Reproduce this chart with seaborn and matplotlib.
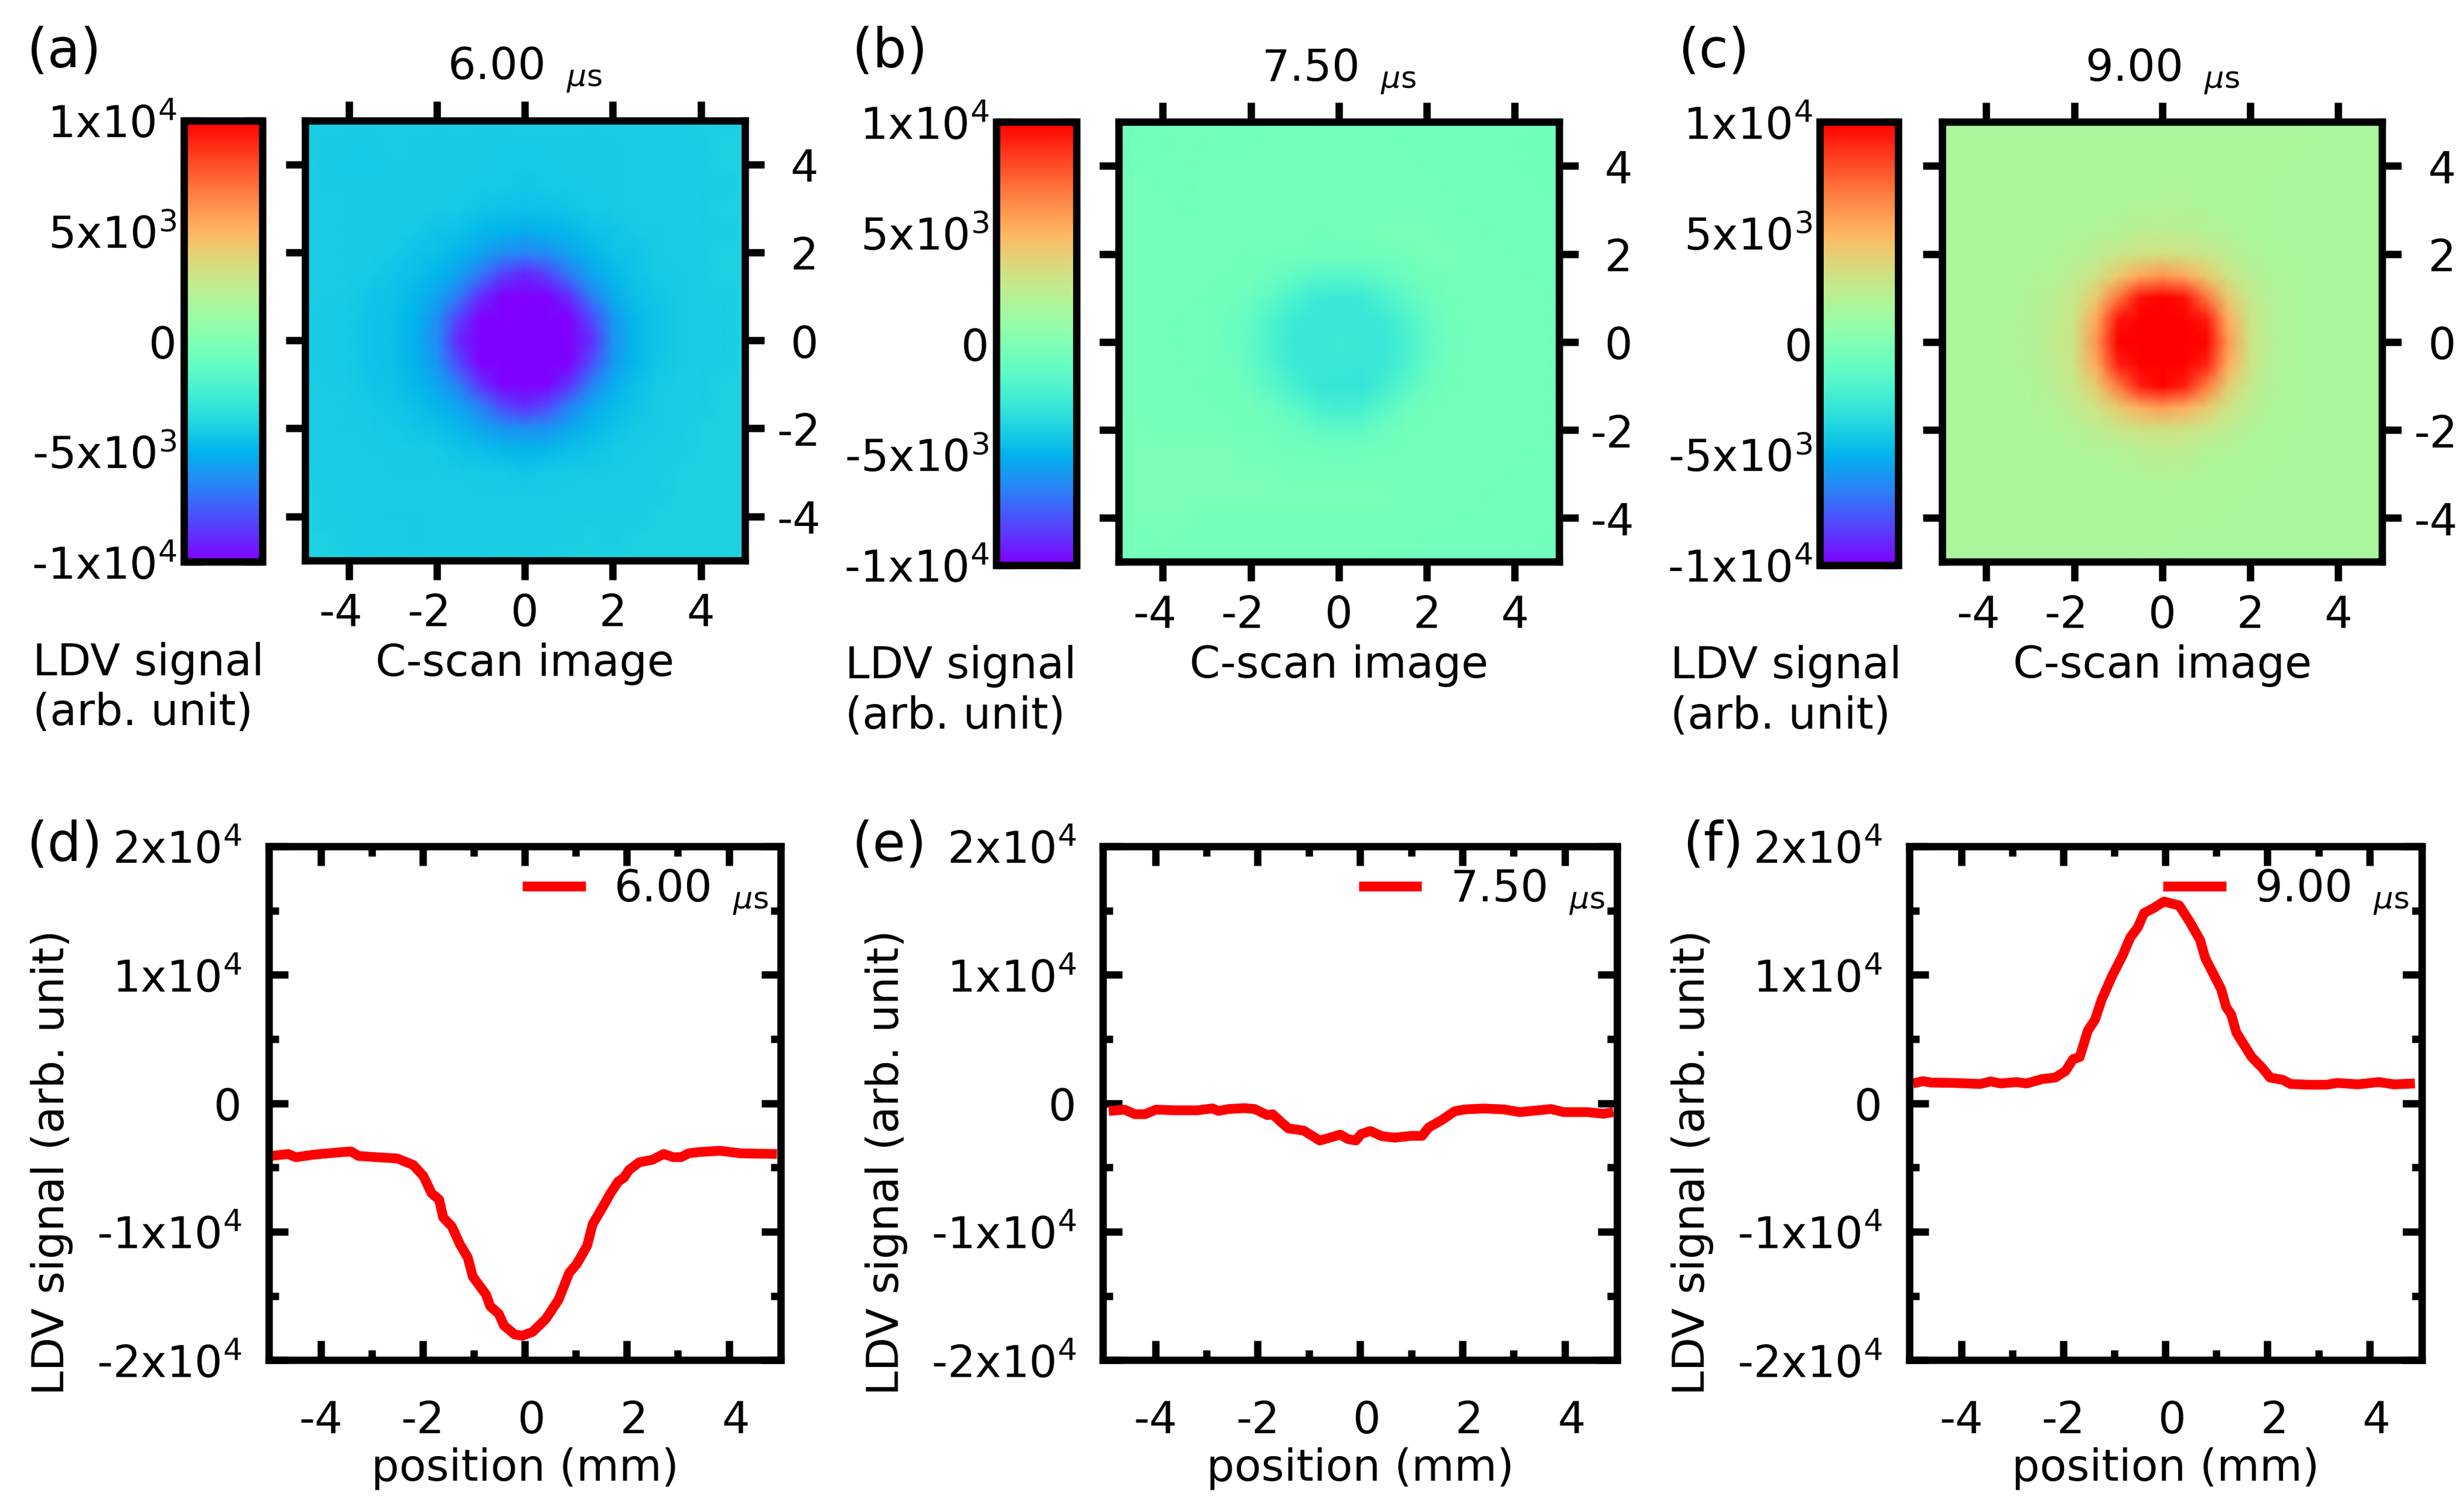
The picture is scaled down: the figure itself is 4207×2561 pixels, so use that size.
import matplotlib
matplotlib.use("Agg")
import matplotlib.pyplot as plt
import matplotlib.transforms as mtrans
import numpy as np
import seaborn as sns

# LDV signal, in units of 1e3, nodes every 0.5 mm
# rows run from y = +5 to y = -5, columns from x = -5 to x = +5
cscan_a = [
    [-4.0,-4.0,-4.1,-4.1,-4.1,-4.0,-4.1,-4.0,-4.1,-4.1,-4.0,-4.0,-4.0,-4.1,-4.0,-4.0,-4.0,-4.0,-3.9,-4.0,-3.9],
    [-4.0,-4.1,-4.1,-4.1,-4.0,-4.1,-4.1,-4.1,-4.1,-4.1,-4.1,-4.1,-4.1,-4.1,-4.1,-4.0,-4.0,-4.0,-4.0,-3.9,-3.9],
    [-4.0,-4.1,-4.2,-4.2,-4.1,-4.1,-4.1,-4.1,-4.1,-4.2,-4.2,-4.2,-4.1,-4.1,-4.1,-4.0,-4.0,-4.0,-4.0,-3.9,-3.9],
    [-4.0,-4.1,-4.1,-4.1,-4.1,-4.1,-4.1,-4.1,-4.2,-4.2,-4.3,-4.2,-4.2,-4.1,-4.1,-4.0,-4.0,-4.0,-4.0,-4.0,-3.9],
    [-4.0,-4.0,-4.1,-4.1,-4.1,-4.1,-4.1,-4.2,-4.3,-4.5,-4.5,-4.5,-4.3,-4.2,-4.1,-4.1,-4.0,-4.0,-4.0,-3.9,-3.9],
    [-4.0,-4.0,-4.1,-4.1,-4.1,-4.2,-4.4,-4.5,-4.8,-5.0,-5.2,-5.0,-4.8,-4.5,-4.3,-4.1,-4.1,-4.0,-4.0,-4.0,-3.9],
    [-4.0,-4.0,-4.1,-4.1,-4.2,-4.4,-4.6,-4.9,-5.5,-6.1,-6.4,-6.1,-5.5,-4.9,-4.5,-4.3,-4.1,-4.0,-4.0,-3.9,-3.9],
    [-4.0,-4.0,-4.1,-4.2,-4.4,-4.6,-4.9,-5.6,-6.8,-8.3,-9.0,-8.3,-6.8,-5.5,-4.8,-4.4,-4.2,-4.1,-4.0,-3.9,-3.9],
    [-4.0,-4.1,-4.1,-4.3,-4.5,-4.8,-5.5,-6.8,-8.8,-12.1,-13.0,-12.1,-8.8,-6.7,-5.3,-4.6,-4.3,-4.1,-4.0,-4.0,-3.9],
    [-4.1,-4.1,-4.2,-4.4,-4.6,-5.0,-6.1,-8.3,-12.4,-15.3,-16.6,-15.3,-12.3,-8.2,-5.9,-4.8,-4.4,-4.1,-4.0,-4.0,-3.9],
    [-4.1,-4.1,-4.2,-4.4,-4.6,-5.1,-6.3,-9.0,-13.4,-16.8,-18.0,-16.6,-13.2,-8.9,-6.1,-4.9,-4.4,-4.1,-4.0,-4.0,-3.9],
    [-4.1,-4.1,-4.2,-4.4,-4.6,-5.0,-6.0,-8.2,-12.2,-15.0,-16.2,-15.0,-12.1,-8.1,-5.9,-4.8,-4.3,-4.1,-4.0,-4.0,-3.9],
    [-4.0,-4.1,-4.1,-4.3,-4.5,-4.8,-5.4,-6.7,-8.7,-11.9,-12.7,-11.9,-8.7,-6.6,-5.3,-4.6,-4.2,-4.0,-4.0,-3.9,-3.9],
    [-4.0,-4.0,-4.1,-4.2,-4.3,-4.6,-4.9,-5.5,-6.6,-8.1,-8.8,-8.1,-6.6,-5.4,-4.7,-4.4,-4.1,-4.0,-4.0,-3.9,-3.9],
    [-4.0,-4.0,-4.1,-4.1,-4.2,-4.3,-4.5,-4.8,-5.4,-6.0,-6.2,-6.0,-5.4,-4.8,-4.5,-4.2,-4.1,-4.0,-3.9,-3.9,-3.9],
    [-4.0,-4.0,-4.0,-4.1,-4.1,-4.1,-4.2,-4.4,-4.6,-4.8,-4.9,-4.8,-4.6,-4.4,-4.2,-4.1,-4.0,-4.0,-3.9,-3.9,-3.9],
    [-4.0,-4.0,-4.0,-4.0,-4.1,-4.1,-4.1,-4.1,-4.2,-4.2,-4.3,-4.2,-4.2,-4.1,-4.1,-4.0,-4.0,-3.9,-3.9,-3.9,-3.9],
    [-3.9,-4.0,-4.0,-4.0,-4.0,-4.0,-4.0,-4.0,-4.1,-4.1,-4.1,-4.1,-4.0,-4.0,-4.0,-4.0,-4.0,-3.9,-3.9,-3.9,-3.9],
    [-3.9,-4.0,-4.0,-4.0,-4.1,-4.1,-4.0,-4.0,-4.0,-4.0,-4.0,-4.0,-4.0,-4.0,-4.0,-4.0,-3.9,-3.9,-3.9,-3.9,-3.9],
    [-3.9,-3.9,-4.0,-4.0,-4.0,-4.1,-4.0,-4.0,-4.0,-4.0,-4.0,-4.0,-4.0,-3.9,-4.0,-3.9,-3.9,-3.9,-3.9,-3.9,-3.9],
    [-3.9,-3.9,-3.9,-4.0,-4.0,-4.0,-4.0,-4.0,-4.0,-3.9,-4.0,-3.9,-3.9,-3.9,-3.9,-3.9,-3.9,-3.9,-3.9,-3.9,-3.9],
]
cscan_b = [
    [-0.4,-0.4,-0.5,-0.4,-0.4,-0.5,-0.5,-0.5,-0.4,-0.5,-0.5,-0.5,-0.5,-0.5,-0.5,-0.5,-0.5,-0.5,-0.5,-0.6,-0.6],
    [-0.4,-0.5,-0.5,-0.4,-0.5,-0.5,-0.5,-0.4,-0.4,-0.4,-0.4,-0.4,-0.4,-0.5,-0.5,-0.5,-0.5,-0.5,-0.5,-0.6,-0.6],
    [-0.4,-0.5,-0.5,-0.5,-0.4,-0.4,-0.4,-0.4,-0.4,-0.4,-0.4,-0.4,-0.4,-0.4,-0.5,-0.5,-0.5,-0.5,-0.5,-0.6,-0.6],
    [-0.4,-0.4,-0.5,-0.5,-0.4,-0.4,-0.4,-0.4,-0.4,-0.4,-0.4,-0.4,-0.4,-0.4,-0.4,-0.5,-0.5,-0.5,-0.5,-0.5,-0.6],
    [-0.4,-0.4,-0.4,-0.5,-0.4,-0.4,-0.4,-0.4,-0.4,-0.4,-0.4,-0.4,-0.4,-0.4,-0.4,-0.4,-0.5,-0.5,-0.5,-0.5,-0.5],
    [-0.4,-0.4,-0.4,-0.4,-0.4,-0.4,-0.4,-0.4,-0.4,-0.5,-0.4,-0.4,-0.3,-0.3,-0.3,-0.4,-0.4,-0.5,-0.5,-0.5,-0.5],
    [-0.4,-0.4,-0.4,-0.4,-0.4,-0.4,-0.5,-0.5,-0.6,-0.7,-0.7,-0.7,-0.6,-0.4,-0.3,-0.3,-0.4,-0.4,-0.5,-0.5,-0.5],
    [-0.4,-0.4,-0.4,-0.4,-0.4,-0.5,-0.6,-0.8,-1.1,-1.5,-1.6,-1.5,-1.1,-0.8,-0.5,-0.4,-0.4,-0.4,-0.4,-0.5,-0.5],
    [-0.4,-0.4,-0.4,-0.4,-0.5,-0.6,-0.9,-1.4,-2.1,-2.6,-2.7,-2.6,-2.1,-1.4,-0.8,-0.5,-0.4,-0.4,-0.4,-0.4,-0.5],
    [-0.4,-0.4,-0.4,-0.5,-0.5,-0.8,-1.1,-1.9,-2.6,-2.8,-2.8,-2.8,-2.6,-2.0,-1.1,-0.6,-0.4,-0.4,-0.4,-0.4,-0.5],
    [-0.4,-0.4,-0.4,-0.5,-0.5,-0.8,-1.2,-2.1,-2.8,-2.8,-2.6,-2.7,-2.8,-2.2,-1.2,-0.7,-0.4,-0.4,-0.4,-0.4,-0.5],
    [-0.4,-0.4,-0.4,-0.5,-0.5,-0.7,-1.1,-1.9,-2.6,-2.8,-2.7,-2.8,-2.7,-2.1,-1.1,-0.6,-0.4,-0.4,-0.4,-0.4,-0.5],
    [-0.4,-0.4,-0.4,-0.4,-0.5,-0.6,-0.9,-1.5,-2.2,-2.8,-2.9,-2.9,-2.4,-1.6,-0.8,-0.5,-0.4,-0.4,-0.4,-0.4,-0.5],
    [-0.3,-0.4,-0.4,-0.4,-0.4,-0.5,-0.6,-0.9,-1.4,-2.1,-2.3,-2.2,-1.5,-0.9,-0.5,-0.4,-0.4,-0.4,-0.4,-0.4,-0.5],
    [-0.3,-0.3,-0.4,-0.4,-0.4,-0.4,-0.5,-0.6,-0.8,-1.1,-1.3,-1.2,-0.8,-0.6,-0.4,-0.4,-0.4,-0.4,-0.4,-0.4,-0.5],
    [-0.3,-0.3,-0.3,-0.3,-0.3,-0.3,-0.4,-0.4,-0.5,-0.6,-0.7,-0.6,-0.5,-0.4,-0.4,-0.4,-0.4,-0.4,-0.4,-0.5,-0.5],
    [-0.3,-0.3,-0.3,-0.3,-0.3,-0.3,-0.3,-0.3,-0.4,-0.4,-0.4,-0.4,-0.4,-0.4,-0.4,-0.4,-0.4,-0.4,-0.5,-0.5,-0.5],
    [-0.3,-0.3,-0.3,-0.3,-0.3,-0.3,-0.3,-0.3,-0.3,-0.3,-0.3,-0.3,-0.3,-0.4,-0.4,-0.4,-0.4,-0.5,-0.5,-0.5,-0.5],
    [-0.3,-0.3,-0.3,-0.3,-0.4,-0.4,-0.4,-0.4,-0.4,-0.4,-0.4,-0.4,-0.4,-0.4,-0.4,-0.4,-0.5,-0.5,-0.5,-0.5,-0.5],
    [-0.4,-0.4,-0.3,-0.4,-0.4,-0.4,-0.4,-0.4,-0.4,-0.4,-0.4,-0.4,-0.4,-0.4,-0.5,-0.5,-0.5,-0.5,-0.5,-0.5,-0.6],
    [-0.4,-0.4,-0.4,-0.4,-0.4,-0.4,-0.4,-0.4,-0.4,-0.4,-0.4,-0.4,-0.5,-0.5,-0.5,-0.5,-0.5,-0.5,-0.6,-0.6,-0.6],
]
cscan_c = [
    [1.7,1.7,1.7,1.7,1.7,1.7,1.7,1.7,1.7,1.7,1.7,1.7,1.7,1.7,1.7,1.7,1.7,1.7,1.6,1.6,1.6],
    [1.7,1.7,1.7,1.7,1.7,1.7,1.7,1.7,1.7,1.7,1.7,1.7,1.7,1.7,1.7,1.7,1.7,1.6,1.6,1.6,1.6],
    [1.7,1.7,1.7,1.7,1.7,1.7,1.7,1.7,1.7,1.7,1.7,1.7,1.7,1.7,1.7,1.7,1.6,1.6,1.6,1.6,1.6],
    [1.7,1.7,1.7,1.7,1.7,1.7,1.7,1.7,1.7,1.7,1.8,1.8,1.7,1.7,1.7,1.6,1.6,1.6,1.6,1.6,1.6],
    [1.7,1.7,1.7,1.7,1.7,1.7,1.7,1.7,1.8,1.9,2.0,1.9,1.8,1.7,1.7,1.6,1.6,1.6,1.6,1.6,1.6],
    [1.7,1.7,1.7,1.7,1.7,1.7,1.8,1.9,2.1,2.3,2.4,2.3,2.1,1.9,1.7,1.6,1.6,1.6,1.6,1.6,1.6],
    [1.7,1.7,1.7,1.7,1.7,1.8,2.0,2.3,2.8,3.0,3.2,3.0,2.8,2.3,1.9,1.7,1.6,1.6,1.6,1.6,1.6],
    [1.7,1.7,1.7,1.7,1.8,2.0,2.4,3.0,4.2,5.4,6.0,5.4,4.2,2.9,2.2,1.8,1.7,1.6,1.6,1.6,1.6],
    [1.7,1.7,1.7,1.7,1.9,2.2,2.8,4.2,7.0,9.6,10.8,9.6,7.0,4.1,2.6,2.0,1.7,1.6,1.6,1.6,1.6],
    [1.7,1.7,1.7,1.8,1.9,2.3,3.0,5.4,9.4,12.8,14.6,12.8,9.3,5.2,2.9,2.0,1.7,1.6,1.6,1.6,1.6],
    [1.7,1.7,1.7,1.8,1.9,2.4,3.1,6.0,10.8,14.4,15.6,14.4,10.6,5.8,3.0,2.1,1.7,1.6,1.6,1.6,1.6],
    [1.7,1.7,1.7,1.8,1.9,2.3,3.0,5.4,9.2,12.6,14.4,12.6,9.1,5.2,2.9,2.0,1.7,1.6,1.6,1.6,1.6],
    [1.7,1.7,1.7,1.7,1.8,2.2,2.8,4.1,6.8,9.2,10.4,9.2,6.8,4.0,2.6,1.9,1.7,1.6,1.6,1.6,1.6],
    [1.7,1.7,1.7,1.7,1.8,2.0,2.4,3.0,4.1,5.2,5.7,5.2,4.1,2.9,2.2,1.8,1.7,1.6,1.6,1.6,1.6],
    [1.7,1.7,1.7,1.7,1.7,1.8,2.0,2.3,2.7,3.0,3.1,3.0,2.7,2.3,1.9,1.7,1.6,1.6,1.6,1.6,1.6],
    [1.7,1.7,1.7,1.7,1.7,1.7,1.8,1.9,2.0,2.2,2.4,2.3,2.0,1.9,1.7,1.7,1.6,1.6,1.6,1.6,1.6],
    [1.7,1.7,1.7,1.7,1.7,1.7,1.7,1.7,1.8,1.8,1.9,1.9,1.8,1.7,1.7,1.6,1.6,1.6,1.6,1.6,1.6],
    [1.7,1.7,1.7,1.7,1.7,1.7,1.7,1.7,1.7,1.7,1.8,1.7,1.7,1.7,1.6,1.6,1.6,1.6,1.6,1.6,1.6],
    [1.7,1.7,1.7,1.7,1.7,1.7,1.7,1.7,1.7,1.7,1.7,1.7,1.7,1.6,1.6,1.6,1.6,1.6,1.6,1.6,1.6],
    [1.7,1.7,1.7,1.7,1.7,1.7,1.7,1.7,1.7,1.7,1.7,1.6,1.6,1.6,1.6,1.6,1.6,1.6,1.6,1.6,1.6],
    [1.7,1.7,1.7,1.7,1.7,1.7,1.7,1.7,1.6,1.6,1.6,1.6,1.6,1.6,1.6,1.6,1.6,1.6,1.6,1.6,1.6],
]

# line profiles, position in mm and signal in units of 1e3
pos_d = [-4.97,-4.64,-4.49,-4.13,-3.72,-3.41,-3.26,-2.91,-2.50,-2.19,-1.99,-1.83,-1.68,-1.60,-1.43,-1.27,-1.12,-1.02,-0.76,-0.68,-0.51,-0.41,-0.20,-0.05,0.15,0.41,0.66,0.87,1.02,1.22,1.33,1.48,1.68,1.83,1.94,2.04,2.24,2.50,2.72,2.91,3.06,3.21,3.41,3.82,4.23,4.94]
sig_d = [-4.1,-3.95,-4.2,-4.0,-3.85,-3.75,-4.1,-4.2,-4.3,-4.8,-5.66,-7.0,-7.5,-8.9,-9.6,-11.0,-12.0,-13.5,-14.9,-15.8,-16.4,-17.3,-18.0,-18.1,-17.8,-16.8,-15.3,-13.2,-12.5,-11.1,-9.4,-8.4,-7.0,-6.1,-5.8,-5.2,-4.6,-4.4,-3.95,-4.2,-4.2,-3.9,-3.8,-3.7,-3.9,-3.95]
pos_e = [-4.91,-4.60,-4.40,-4.20,-3.99,-3.59,-3.18,-2.88,-2.77,-2.57,-2.27,-2.06,-1.81,-1.71,-1.55,-1.40,-1.10,-0.79,-0.64,-0.39,-0.23,-0.08,0.02,0.20,0.43,0.68,0.99,1.21,1.34,1.60,1.85,2.05,2.41,2.81,3.12,3.73,3.98,4.44,4.75,4.95]
sig_e = [-0.6,-0.5,-0.85,-0.85,-0.5,-0.55,-0.55,-0.4,-0.6,-0.45,-0.38,-0.45,-0.93,-0.85,-1.44,-1.96,-2.13,-2.9,-2.74,-2.44,-2.8,-2.9,-2.4,-2.16,-2.57,-2.68,-2.54,-2.54,-1.89,-1.3,-0.62,-0.48,-0.41,-0.48,-0.69,-0.45,-0.69,-0.69,-0.82,-0.69]
pos_f = [-4.95,-4.75,-4.59,-4.14,-3.63,-3.43,-3.23,-2.92,-2.72,-2.41,-2.16,-1.96,-1.81,-1.68,-1.52,-1.38,-1.25,-1.04,-0.84,-0.69,-0.54,-0.42,-0.23,-0.03,0.27,0.48,0.68,0.78,1.09,1.19,1.29,1.39,1.69,1.90,2.05,2.30,2.45,2.81,3.16,3.37,3.77,4.18,4.48,4.89]
sig_f = [1.54,1.72,1.61,1.58,1.5,1.7,1.54,1.65,1.54,1.89,2.0,2.5,3.43,3.6,5.66,6.5,8.06,9.95,11.5,12.9,13.7,14.8,15.2,15.7,15.4,14.1,12.7,11.3,8.9,7.5,6.9,5.5,3.6,2.74,2.0,1.82,1.5,1.44,1.44,1.58,1.47,1.65,1.47,1.54]

times = ["6.00", "7.50", "9.00"]
top_letters = ["(a)", "(b)", "(c)"]
bottom_letters = ["(d)", "(e)", "(f)"]
cbar_tick_values = [-1e4, -5e3, 0, 5e3, 1e4]
cbar_tick_labels = ["-1x10$^4$", "-5x10$^3$", "0", "5x10$^3$", "1x10$^4$"]
line_tick_values = [-2e4, -1e4, 0, 1e4, 2e4]
line_tick_labels = ["-2x10$^4$", "-1x10$^4$", "0", "1x10$^4$", "2x10$^4$"]
mm_ticks = [-4, -2, 0, 2, 4]
mm_labels = ["-4", "-2", " 0", " 2", " 4"]
unit = r" $\,_{\mu \mathrm{s}}$"

# panel boxes in px of a 1568 wide view of the figure
W, H = 1568, 955
cbar_boxes = [(117, 167, 77, 358), (634, 685, 78, 360), (1158, 1208, 78, 360)]
image_boxes = [(194, 474, 77, 357), (712, 992, 78, 358), (1236, 1516, 78, 358)]
line_boxes = [(171, 497, 539, 866), (702, 1029, 539, 866), (1215, 1541, 539, 866)]
top_letter_xy = [(17, 33), (542, 33), (1068, 33)]
bottom_letter_xy = [(17, 538), (542, 538), (1071, 538)]
cbar_text_xy = [(21, 438), (538, 440), (1063, 440)]
ylabel_x = [33, 564, 1077]

sns.set_theme(style="ticks")
plt.rcParams["font.family"] = ["DejaVu Sans"]
plt.rcParams["font.size"] = 18
plt.rcParams["axes.linewidth"] = 3
plt.rcParams["lines.solid_capstyle"] = "butt"
for key in ["text.color", "axes.labelcolor", "xtick.color", "ytick.color"]:
    plt.rcParams[key] = "black"

fig = plt.figure(figsize=(4207 / 300, 2562 / 300), dpi=300)


def add_box(box):
    x0, x1, y0, y1 = box
    return fig.add_axes([x0 / W, 1 - y1 / H, (x1 - x0) / W, (y1 - y0) / H])


def style_spines(ax):
    for spine in ax.spines.values():
        spine.set_visible(True)
        spine.set_color("black")
        spine.set_linewidth(3)


cscans = [cscan_a, cscan_b, cscan_c]
for i in range(3):
    cax = add_box(cbar_boxes[i])
    ax = add_box(image_boxes[i])
    data = np.array(cscans[i]) * 1e3
    n = data.shape[0] - 1
    sns.heatmap(data, ax=ax, cbar_ax=cax, cmap="rainbow", vmin=-1e4, vmax=1e4,
                xticklabels=False, yticklabels=False, shading="gouraud")
    ax.set_xlim(0, n)
    ax.set_ylim(n, 0)
    style_spines(ax)

    # ticks in mm on the index scale of the heatmap
    ax.set_xticks([(v + 5) * 2 for v in mm_ticks], labels=["-4", "-2", "0", "2", "4"])
    ax.set_yticks([(5 - v) * 2 for v in mm_ticks], labels=mm_labels)
    ax.tick_params(axis="both", which="major", direction="out", length=8, width=3,
                   labelsize=18, top=True, bottom=True, left=True, right=True,
                   labelleft=False, labelright=True, labelbottom=True, labeltop=False, pad=5)
    for lab in ax.get_xticklabels()[:2]:
        lab.set_transform(lab.get_transform() + mtrans.ScaledTranslation(-0.045, 0, fig.dpi_scale_trans))
    ax.set_xlabel("C-scan image", fontsize=18, labelpad=3)
    ax.set_title(times[i] + unit, fontsize=18, pad=17)

    cb = ax.collections[0].colorbar
    cb.outline.set_visible(True)
    cb.outline.set_linewidth(3)
    cb.outline.set_edgecolor("black")
    cb.set_ticks(cbar_tick_values, labels=cbar_tick_labels)
    cax.tick_params(axis="y", which="major", direction="in", length=7, width=3,
                    left=True, right=True, labelleft=True, labelright=False, labelsize=18, pad=3)
    cax.minorticks_off()

    fig.text(top_letter_xy[i][0] / W, 1 - top_letter_xy[i][1] / H, top_letters[i], fontsize=22, va="center")
    fig.text(cbar_text_xy[i][0] / W, 1 - cbar_text_xy[i][1] / H, "LDV signal\n(arb. unit)", fontsize=18,
             va="center", ha="left", linespacing=1.22)

positions = [pos_d, pos_e, pos_f]
signals = [sig_d, sig_e, sig_f]
for i in range(3):
    ax = add_box(line_boxes[i])
    x = np.array(positions[i])
    y = np.array(signals[i]) * 1e3
    sns.lineplot(x=x, y=y, ax=ax, color="red", linewidth=4, errorbar=None, label=times[i] + unit)
    ax.set_xlim(-5.02, 5.02)
    ax.set_ylim(-2e4, 2e4)
    style_spines(ax)

    ax.set_xticks(mm_ticks, labels=mm_labels)
    ax.set_xticks([-3, -1, 1, 3], minor=True)
    ax.set_yticks(line_tick_values, labels=line_tick_labels)
    ax.set_yticks([-1.5e4, -5e3, 5e3, 1.5e4], minor=True)
    ax.tick_params(axis="both", which="major", direction="in", length=8, width=3, top=True, right=True, labelsize=18)
    ax.tick_params(axis="both", which="minor", direction="in", length=4, width=3, top=True, right=True)
    ax.tick_params(axis="x", which="major", pad=16)
    ax.tick_params(axis="y", which="major", pad=11)
    ax.set_xlabel("position (mm)", fontsize=18, labelpad=2)

    ax.legend(loc="upper right", bbox_to_anchor=(1.01, 0.993), frameon=False, fontsize=18, handlelength=1.43,
              handletextpad=0.65, borderpad=0.2, borderaxespad=0.2)

    fig.text(ylabel_x[i] / W, 1 - 740 / H, "LDV signal (arb. unit)", fontsize=18, rotation=90, va="center", ha="center")
    fig.text(bottom_letter_xy[i][0] / W, 1 - bottom_letter_xy[i][1] / H, bottom_letters[i], fontsize=22, va="center")

plt.savefig("out.png", dpi=300)
plt.close()
